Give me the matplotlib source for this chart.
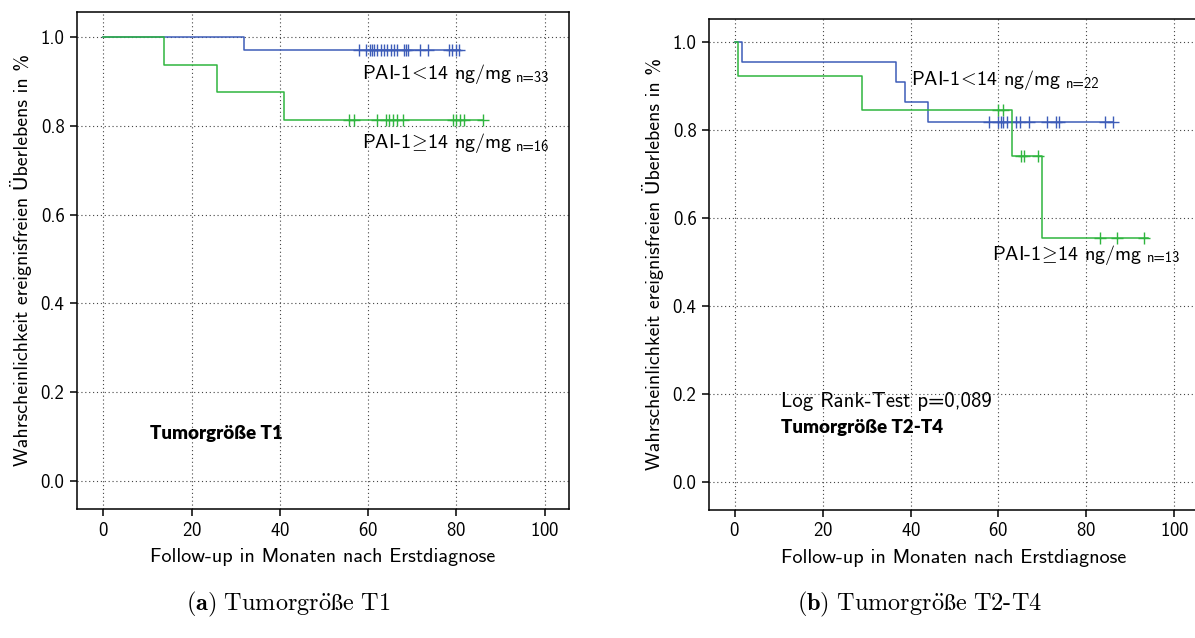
import numpy as np
import matplotlib
matplotlib.use("Agg")
import matplotlib.pyplot as plt

plt.rcParams['font.family'] = ['cmss10', 'DejaVu Sans']
plt.rcParams['mathtext.fontset'] = 'cm'
plt.rcParams['axes.formatter.use_mathtext'] = True
plt.rcParams['axes.unicode_minus'] = False

BLUE = '#3d5cb8'
GREEN = '#2fb53f'

# --- T1 ---
t1_low_time = [0, 31.8, 80.7]
t1_low_surv = [1.0, 0.970, 0.970]
t1_low_cens = [57.8, 59.5, 60.3, 60.8, 61.4, 62.1, 62.8, 63.6, 64.3, 65.1, 65.9, 66.5,
               68.0, 68.6, 69.1, 71.8, 73.6, 78.2, 78.9, 79.8, 80.6]
t1_high_time = [0, 13.7, 25.8, 40.8, 86.1]
t1_high_surv = [1.0, 0.9375, 0.875, 0.8125, 0.8125]
t1_high_cens = [55.7, 56.8, 61.9, 64.0, 64.8, 65.7, 66.6, 67.8, 79.1, 79.9, 80.8, 81.7, 86.1]

# --- T2-T4 ---
t2_low_time = [0, 1.7, 36.8, 38.8, 44.0, 86.1]
t2_low_surv = [1.0, 0.9545, 0.909, 0.8636, 0.818, 0.818]
t2_low_cens = [57.9, 60.0, 60.6, 61.1, 61.9, 63.9, 64.9, 67.0, 71.0, 73.1, 73.8, 84.2, 86.1]
t2_high_time = [0, 0.7, 29.0, 63.1, 70.0, 93.9]
t2_high_surv = [1.0, 0.923, 0.846, 0.741, 0.556, 0.556]
t2_high_cens = [60.0, 61.0, 65.1, 65.9, 68.9, 83.1, 87.0, 93.1]

xticks = [0, 20, 40, 60, 80, 100]
yticks = [0.0, 0.2, 0.4, 0.6, 0.8, 1.0]
xlabel = 'Follow-up in Monaten nach Erstdiagnose'
ylabel = 'Wahrscheinlichkeit ereignisfreien Überlebens in %'
lab_low = 'PAI-1$\\!<\\!$14 ng/mg'
lab_high = 'PAI-1$\\!\\geq\\!$14 ng/mg'


def surv_at(times, surv, t):
    idx = np.searchsorted(times, t, side='right') - 1
    return np.asarray(surv)[idx]


def km(ax, times, surv, cens, color):
    ax.step(times, surv, where='post', color=color, lw=1.1)
    ax.plot(cens, surv_at(times, surv, cens), ls='none', marker='+', ms=8, mew=1.0, color=color)


def style(ax, xlim, ylim):
    ax.set_xlim(*xlim)
    ax.set_ylim(*ylim)
    ax.set_xticks(xticks)
    ax.set_yticks(yticks)
    ax.set_yticklabels([f'{v:.1f}' for v in yticks])
    ax.grid(True, ls=(0, (1, 2.5)), color='#444444', lw=0.8)
    ax.tick_params(direction='out', length=5, width=1.1, labelsize=13.5, pad=4)
    for s in ax.spines.values():
        s.set_linewidth(1.1)
    ax.set_xlabel(xlabel, fontsize=14.5, labelpad=6)
    ax.set_ylabel(ylabel, fontsize=14.3, labelpad=6)


def label(ax, x, y, txt, n):
    t = ax.text(x, y, txt, fontsize=14.5)
    ax.annotate(n, xy=(1, 0), xycoords=t, xytext=(3, 1), textcoords='offset points',
                fontsize=10.5, va='bottom')


fig = plt.figure(figsize=(11.95, 6.38), dpi=100)
W, H = 1195, 638
ax1 = fig.add_axes([77 / W, 1 - 509 / H, (569 - 77) / W, (509 - 12) / H])
ax2 = fig.add_axes([709 / W, 1 - 510 / H, 489.5 / W, (510 - 18.7) / H])

km(ax1, t1_low_time, t1_low_surv, t1_low_cens, BLUE)
km(ax1, t1_high_time, t1_high_surv, t1_high_cens, GREEN)
style(ax1, (-6, 105.5), (-0.063, 1.056))

label(ax1, 58.5, 0.905, lab_low, 'n=33')
label(ax1, 58.5, 0.75, lab_high, 'n=16')
ax1.text(10.5, 0.095, 'Tumorgröße T1', fontsize=13.5, fontweight='heavy', family='Lato')

km(ax2, t2_low_time, t2_low_surv, t2_low_cens, BLUE)
km(ax2, t2_high_time, t2_high_surv, t2_high_cens, GREEN)
style(ax2, (-5.85, 105.5), (-0.064, 1.054))

label(ax2, 40.1, 0.903, lab_low, 'n=22')
label(ax2, 58.5, 0.506, lab_high, 'n=13')
ax2.text(10.5, 0.171, 'Log Rank-Test p=0,089', fontsize=15)
ax2.text(10.5, 0.111, 'Tumorgröße T2-T4', fontsize=13.5, fontweight='heavy', family='Lato')

fig.text(288 / W, 1 - 604 / H, r'$\mathbf{(a)}\ \mathrm{Tumorgr\"{o}\ss e\ T1}$',
         ha='center', va='center', fontsize=17.5)
fig.text(920 / W, 1 - 604 / H, r'$\mathbf{(b)}\ \mathrm{Tumorgr\"{o}\ss e\ T2\text{-}T4}$',
         ha='center', va='center', fontsize=17.5)

fig.savefig('out.png', dpi=100)
